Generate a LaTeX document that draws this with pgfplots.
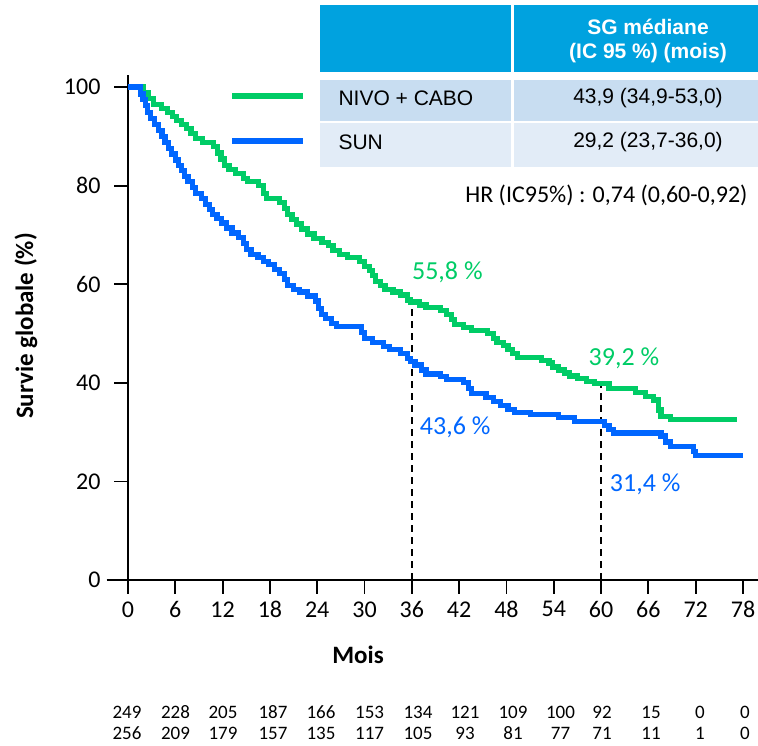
\documentclass[border=0pt]{standalone}
\usepackage{fontspec}
\setmainfont{Carlito}
\newfontfamily\arialf{Liberation Sans}
\usepackage{pgfplots}
\pgfplotsset{compat=1.18}
\definecolor{cgreen}{RGB}{0,204,102}
\definecolor{cblue}{RGB}{0,102,255}
\definecolor{hdr}{RGB}{0,162,223}
\definecolor{rowa}{RGB}{200,221,241}
\definecolor{rowb}{RGB}{226,236,247}
\pgfplotstableread{
m S
0 100
2.0 98.8
2.6 97.6
3.2 96.4
4.2 95.6
5.0 94.8
5.6 94.0
6.2 93.2
6.8 92.4
7.4 91.6
8.0 90.6
8.6 89.6
9.4 88.8
10.8 88.0
11.4 86.6
11.8 85.4
12.2 84.0
12.8 83.2
13.6 82.4
14.6 81.4
15.2 80.8
16.6 80.0
17.2 78.4
17.6 77.4
19.2 76.6
19.8 75.4
20.2 74.2
20.8 73.2
21.4 72.2
22.0 71.2
22.8 70.2
23.6 69.2
24.6 68.4
25.4 67.8
26.0 66.8
26.8 66.0
27.8 65.4
29.4 64.6
30.0 63.6
30.6 62.8
31.0 61.8
31.4 60.6
32.0 59.8
32.6 59.0
33.6 58.4
34.6 57.8
35.4 56.8
35.8 56.4
37.0 55.8
37.8 55.2
39.6 54.6
40.4 53.8
41.0 52.8
41.4 51.8
42.6 51.2
43.6 50.6
45.6 50.0
46.4 49.0
46.8 48.2
47.6 47.6
48.2 46.8
48.8 46.0
49.4 45.2
52.4 44.6
53.4 44.0
53.8 43.2
54.6 42.6
55.4 42.0
56.0 41.4
57.0 40.8
58.2 40.2
59.2 39.8
61.0 38.9
64.4 38.1
65.6 37.3
66.6 36.5
67.3 34.5
67.6 33.2
68.8 32.5
77.2 32.5
}\nivocabo
\pgfplotstableread{
m S
0 100
1.6 98.6
1.9 97.4
2.2 96.2
2.5 94.8
2.9 93.6
3.4 92.4
3.9 91.2
4.3 90.0
4.7 88.8
5.1 87.6
5.5 86.4
6.0 85.2
6.4 84.0
6.8 83.0
7.2 81.8
7.6 80.8
8.2 79.6
8.6 78.4
9.3 77.4
9.8 76.2
10.3 75.2
10.7 74.2
11.3 73.4
11.9 72.4
12.5 71.4
13.2 70.4
14.0 69.4
14.6 68.2
15.0 67.0
15.6 66.0
16.5 65.4
17.2 64.6
17.8 64.0
18.6 63.0
19.2 62.2
19.8 61.0
20.2 59.8
21.0 59.0
21.8 58.4
22.8 57.6
23.8 56.6
24.2 55.0
24.5 53.8
25.0 53.0
25.8 52.0
26.4 51.4
29.6 50.2
30.0 49.0
31.0 48.2
32.4 47.4
33.2 46.8
34.6 46.0
35.4 45.0
35.8 44.4
36.4 43.6
37.2 42.6
37.8 41.8
39.6 41.2
40.4 40.6
42.6 40.0
43.2 38.8
43.6 37.8
45.4 37.0
46.4 36.2
47.2 35.4
48.2 34.6
49.0 34.0
51.0 33.6
54.6 33.0
56.6 32.2
60.4 31.4
61.0 30.6
61.6 29.8
67.6 29.2
68.2 28.0
68.8 27.0
71.7 26.0
72.0 25.2
78.0 25.2
}\sun
\begin{document}
\begin{tikzpicture}
\useasboundingbox (0pt,0pt) rectangle (758pt,745pt);
% table
\fill[hdr] (320pt,673pt) rectangle (511pt,739.5pt);
\fill[hdr] (514pt,673pt) rectangle (758pt,739.5pt);
\fill[rowa] (320pt,624pt) rectangle (511pt,665pt);
\fill[rowa] (514pt,624pt) rectangle (758pt,665pt);
\fill[rowb] (320pt,578pt) rectangle (511pt,621.5pt);
\fill[rowb] (514pt,578pt) rectangle (758pt,621.5pt);
\node[text=white, font=\arialf\bfseries\fontsize{21}{25}\selectfont] at (648pt,718pt) {SG médiane};
\node[text=white, font=\arialf\bfseries\fontsize{21}{25}\selectfont] at (648pt,692pt) {(IC 95 \%) (mois)};
\node[anchor=west, font=\arialf\fontsize{21}{25}\selectfont] at (335pt,647pt) {NIVO + CABO};
\node[anchor=west, font=\arialf\fontsize{21}{25}\selectfont] at (335pt,603pt) {SUN};
\node[font=\arialf\fontsize{21}{25}\selectfont] at (648pt,647pt) {43,9 (34,9-53,0)};
\node[font=\arialf\fontsize{21}{25}\selectfont] at (648pt,603pt) {29,2 (23,7-36,0)};
\draw[cgreen, line width=5.5pt] (232pt,649pt) -- (303pt,649pt);
\draw[cblue, line width=5.5pt] (232pt,604pt) -- (303pt,604pt);
\node[anchor=east, font=\fontsize{24}{28}\selectfont] at (751pt,550pt) {HR (IC95\%) : 0,74 (0,60-0,92)};
\begin{axis}[at={(128pt,165pt)}, anchor=south west, scale only axis,
  width=615pt, height=505.3pt,
  xmin=0, xmax=78, ymin=0, ymax=102.5,
  axis lines=left, axis line style={-, line width=1.8pt},
  xtick={0,6,...,78}, ytick={0,20,...,100},
  tick align=outside, major tick length=14pt,
  tick style={line width=1.8pt, black},
  /pgf/number format/assume math mode=true,
  tick label style={font=\fontsize{24}{28}\selectfont},
  xticklabel style={yshift=-4pt},
  yticklabel style={xshift=-10pt},
  clip=false]
\draw[line width=1.8pt] (axis cs:-2.7,0) -- (axis cs:0,0);
\draw[line width=1.8pt] (axis cs:78,0) -- (axis cs:79.9,0);
\addplot[black, line width=2pt, dash pattern=on 7pt off 5pt] coordinates {(36,0) (36,56.4)};
\addplot[black, line width=2pt, dash pattern=on 7pt off 5pt] coordinates {(60,0) (60,39.6)};
\addplot[const plot mark left, cgreen, line width=5.2pt] table[x=m,y=S] {\nivocabo};
\addplot[const plot mark left, cblue, line width=5.2pt] table[x=m,y=S] {\sun};
\node[text=cgreen, font=\fontsize{26}{30}\selectfont] at (axis cs:40.5,62.5) {55,8 \%};
\node[text=cgreen, font=\fontsize{26}{30}\selectfont] at (axis cs:62.9,45.0) {39,2 \%};
\node[text=cblue, font=\fontsize{26}{30}\selectfont] at (axis cs:41.5,31.0) {43,6 \%};
\node[text=cblue, font=\fontsize{26}{30}\selectfont] at (axis cs:65.6,19.5) {31,4 \%};
\end{axis}
\node[rotate=90, font=\bfseries\fontsize{25}{30}\selectfont] at (26pt,419pt) {Survie globale (\%)};
\node[font=\bfseries\fontsize{25}{30}\selectfont] at (358pt,90pt) {Mois};
\foreach \x/\a/\b in {127/249/256,175.5/228/209,223/205/179,273/187/157,321/166/135,369.6/153/117,418/134/105,465/121/93,513/109/81,560.5/100/77,602/92/71,651/15/11,700/0/1,745/0/0} {
  \node[font=\fontsize{19}{22}\selectfont] at (\x pt,33pt) {\a};
  \node[font=\fontsize{19}{22}\selectfont] at (\x pt,12pt) {\b};
}
\end{tikzpicture}
\end{document}
